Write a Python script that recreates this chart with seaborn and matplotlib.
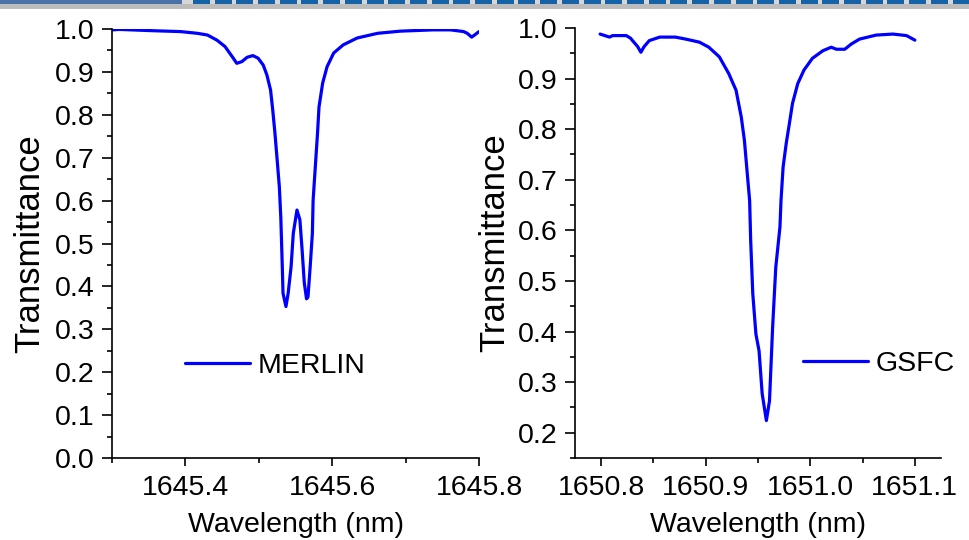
import numpy as np
import pandas as pd
import matplotlib
matplotlib.use("Agg")
import matplotlib.pyplot as plt
import seaborn as sns
from matplotlib.patches import Rectangle
from matplotlib.ticker import FixedLocator, MultipleLocator

# ---------------- data ----------------
merlin_wl = [1645.301, 1645.310, 1645.356, 1645.393, 1645.416, 1645.430, 1645.443, 1645.454,
             1645.464, 1645.470, 1645.477, 1645.484, 1645.492, 1645.499, 1645.506, 1645.511,
             1645.516, 1645.519, 1645.522, 1645.525, 1645.528, 1645.530, 1645.532, 1645.533,
             1645.537, 1645.540, 1645.544, 1645.547, 1645.552, 1645.556, 1645.559, 1645.562,
             1645.565, 1645.567, 1645.570, 1645.573, 1645.574, 1645.577, 1645.580, 1645.582,
             1645.587, 1645.593, 1645.602, 1645.615, 1645.634, 1645.662, 1645.693, 1645.738,
             1645.761, 1645.779, 1645.784, 1645.790, 1645.794, 1645.800]
merlin_t = [0.998, 0.999, 0.996, 0.994, 0.990, 0.986, 0.974, 0.959,
            0.935, 0.920, 0.924, 0.934, 0.938, 0.932, 0.916, 0.893,
            0.858, 0.811, 0.757, 0.695, 0.632, 0.560, 0.446, 0.384,
            0.353, 0.384, 0.446, 0.524, 0.578, 0.555, 0.485, 0.408,
            0.371, 0.375, 0.446, 0.524, 0.601, 0.679, 0.757, 0.818,
            0.874, 0.912, 0.944, 0.963, 0.979, 0.990, 0.995, 0.998,
            0.998, 0.994, 0.990, 0.981, 0.986, 0.994]

gsfc_wl = [1650.799, 1650.808, 1650.811, 1650.824, 1650.828, 1650.835, 1650.838, 1650.841,
           1650.846, 1650.856, 1650.871, 1650.881, 1650.894, 1650.903, 1650.913, 1650.922,
           1650.929, 1650.934, 1650.937, 1650.940, 1650.942, 1650.943, 1650.945, 1650.948,
           1650.951, 1650.954, 1650.958, 1650.961, 1650.964, 1650.967, 1650.971, 1650.972,
           1650.974, 1650.977, 1650.980, 1650.983, 1650.988, 1650.994, 1651.002, 1651.012,
           1651.020, 1651.025, 1651.033, 1651.039, 1651.047, 1651.063, 1651.079, 1651.092,
           1651.100]
gsfc_t = [0.988, 0.982, 0.985, 0.985, 0.980, 0.963, 0.952, 0.963,
          0.975, 0.982, 0.982, 0.978, 0.972, 0.962, 0.943, 0.910,
          0.877, 0.824, 0.778, 0.706, 0.659, 0.580, 0.475, 0.395,
          0.362, 0.277, 0.224, 0.263, 0.409, 0.527, 0.607, 0.659,
          0.725, 0.772, 0.811, 0.851, 0.890, 0.917, 0.940, 0.955,
          0.962, 0.958, 0.958, 0.968, 0.978, 0.986, 0.988, 0.985,
          0.976]

merlin_xticks = [1645.4, 1645.6, 1645.8]
merlin_xticklabels = ["1645.4", "1645.6", "1645.8"]
gsfc_xticks = [1650.8, 1650.9, 1651.0, 1651.1]
gsfc_xticklabels = ["1650.8", "1650.9", "1651.0", "1651.1"]
merlin_yticks = [0.0, 0.1, 0.2, 0.3, 0.4, 0.5, 0.6, 0.7, 0.8, 0.9, 1.0]
gsfc_yticks = [0.2, 0.3, 0.4, 0.5, 0.6, 0.7, 0.8, 0.9, 1.0]

x_label = "Wavelength (nm)"
y_label = "Transmittance"

# ---------------- style ----------------
sns.set_style("ticks")
plt.rcParams['font.family'] = ['Liberation Sans', 'DejaVu Sans']

W, H = 969, 540
fig = plt.figure(figsize=(W / 100, H / 100), dpi=100)
fig.patch.set_facecolor("white")


def rect(l, t, r, b):
    return [l / W, 1 - b / H, (r - l) / W, (b - t) / H]


# slide decoration strip at top
fig.add_artist(Rectangle((0, 1 - 9 / H), 1, 9 / H, transform=fig.transFigure,
                         facecolor="#bcbcbc", edgecolor="none"))
fig.add_artist(Rectangle((0, 1 - 4 / H), 182 / W, 4 / H, transform=fig.transFigure,
                         facecolor="#4b72a8", edgecolor="none"))
fig.add_artist(Rectangle((182 / W, 1 - 4 / H), 1 - 182 / W, 4 / H, transform=fig.transFigure,
                         facecolor="#d6d6d6", edgecolor="none"))
xs = 193.0
while xs < W:
    fig.add_artist(Rectangle((xs / W, 1 - 3.6 / H), 17 / W, 3.6 / H, transform=fig.transFigure,
                             facecolor="#1662a6", edgecolor="none"))
    xs += 21.7

ax1 = fig.add_axes(rect(112, 29, 479, 458))
ax2 = fig.add_axes(rect(575, 28, 941, 458))

df1 = pd.DataFrame({"Wavelength": merlin_wl, "Transmittance": merlin_t})
df2 = pd.DataFrame({"Wavelength": gsfc_wl, "Transmittance": gsfc_t})

blue = "#0000ff"
FS = 20.5

sns.lineplot(data=df1, x="Wavelength", y="Transmittance", ax=ax1, color=blue,
             lw=2.3, label="MERLIN", estimator=None, sort=False)
sns.lineplot(data=df2, x="Wavelength", y="Transmittance", ax=ax2, color=blue,
             lw=2.3, label="GSFC", estimator=None, sort=False)

ax1.set_xlim(1645.3, 1645.8)
ax1.set_ylim(0.0, 1.0)
ax2.set_xlim(1650.775, 1651.125)
ax2.set_ylim(0.15, 1.0)

ax1.xaxis.set_major_locator(FixedLocator(merlin_xticks))
ax1.set_xticklabels(merlin_xticklabels)
ax1.xaxis.set_minor_locator(MultipleLocator(0.1))
ax1.yaxis.set_major_locator(FixedLocator(merlin_yticks))
ax1.set_yticklabels([f"{v:.1f}" for v in merlin_yticks])
ax1.yaxis.set_minor_locator(MultipleLocator(0.05))

ax2.xaxis.set_major_locator(FixedLocator(gsfc_xticks))
ax2.set_xticklabels(gsfc_xticklabels)
ax2.xaxis.set_minor_locator(MultipleLocator(0.05))
ax2.yaxis.set_major_locator(FixedLocator(gsfc_yticks))
ax2.set_yticklabels([f"{v:.1f}" for v in gsfc_yticks])
ax2.yaxis.set_minor_locator(MultipleLocator(0.05))

for ax, ylx in ((ax1, -0.18), (ax2, -0.174)):
    sns.despine(ax=ax)
    for s in ("left", "bottom"):
        ax.spines[s].set_color("black")
        ax.spines[s].set_linewidth(1.2)
    ax.tick_params(axis="both", which="both", color="black", width=1.2,
                   labelcolor="black", labelsize=FS, direction="out")
    ax.tick_params(axis="x", which="major", length=6, pad=6)
    ax.tick_params(axis="y", which="major", length=7.5, pad=5)
    ax.tick_params(axis="both", which="minor", length=3.5)
    ax.set_xlabel(x_label, fontsize=FS, labelpad=8, color="black")
    ax.set_ylabel(y_label, fontsize=25, color="black")
    ax.yaxis.set_label_coords(ylx, 0.5)
    ax.set_facecolor("white")

leg1 = ax1.legend(loc="center left", bbox_to_anchor=((185 - 112) / 367, (458 - 366) / 429),
                  frameon=False, fontsize=FS, handlelength=2.28, handletextpad=0.28,
                  borderpad=0, borderaxespad=0, labelcolor="black")
leg2 = ax2.legend(loc="center left", bbox_to_anchor=((803 - 575) / 366, (458 - 364) / 430),
                  frameon=False, fontsize=FS, handlelength=2.28, handletextpad=0.28,
                  borderpad=0, borderaxespad=0, labelcolor="black")

fig.savefig("out.png", dpi=100, facecolor="white")
